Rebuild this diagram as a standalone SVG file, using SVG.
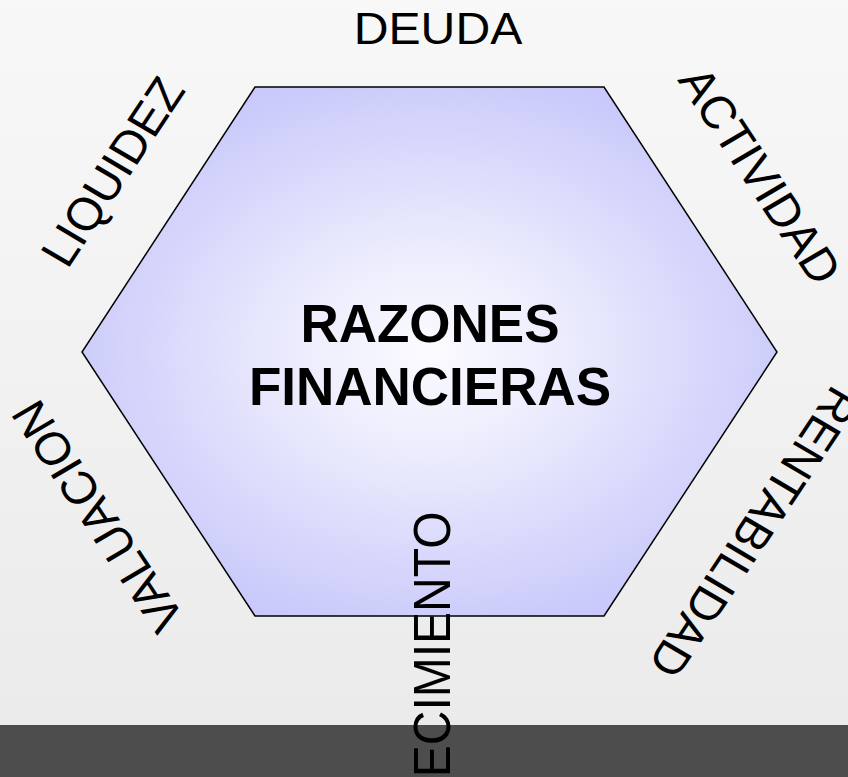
<svg xmlns="http://www.w3.org/2000/svg" width="848" height="777" viewBox="0 0 848 777">
  <defs>
    <linearGradient id="bg" x1="0" y1="0" x2="0" y2="1">
      <stop offset="0" stop-color="#f8f8f8"/>
      <stop offset="1" stop-color="#eaeaea"/>
    </linearGradient>
    <radialGradient id="hexFill" cx="0.5" cy="0.5" r="0.55">
      <stop offset="0" stop-color="#fbfbff"/>
      <stop offset="0.35" stop-color="#ececfd"/>
      <stop offset="1" stop-color="#c8c8fb"/>
    </radialGradient>
    <style>
      .lbl { font-family: "Liberation Sans", Arial, sans-serif; font-size: 46px; fill: #000; text-anchor: middle; }
      .title { font-family: "Liberation Sans", Arial, sans-serif; font-size: 53px; font-weight: bold; fill: #000; text-anchor: middle; }
    </style>
  </defs>
  <rect x="0" y="0" width="848" height="777" fill="url(#bg)"/>
  <rect x="0" y="725" width="848" height="52" fill="#4d4d4d"/>

  <g id="hexagon">
    <polygon points="255,87 604,87 777,352 604,616 255,616 82,352" fill="url(#hexFill)" stroke="#000" stroke-width="1.5"/>
    <text class="title" x="430" y="342">RAZONES</text>
    <text class="title" x="430" y="405">FINANCIERAS</text>
  </g>

  <g id="deuda"><text class="lbl" style="font-size:45px" transform="translate(438,44) scale(1.07,1)">DEUDA</text></g>
  <g id="liquidez"><text class="lbl" transform="translate(127,180) scale(1.06,1) rotate(-58)">LIQUIDEZ</text></g>
  <g id="actividad"><text class="lbl" transform="translate(746,184) scale(1.06,1) rotate(58)">ACTIVIDAD</text></g>
  <g id="valuacion"><text class="lbl" transform="translate(112,508) scale(1.06,1) rotate(-122)">VALUACION</text></g>
  <g id="rentabilidad"><text class="lbl" transform="translate(740,524) scale(1.06,1) rotate(122)">RENTABILIDAD</text></g>
  <g id="crecimiento"><text class="lbl" style="font-size:48px" transform="translate(450,679) scale(1.08,1) rotate(-90)">CRECIMIENTO</text></g>

  <g id="connectors"></g>
</svg>
